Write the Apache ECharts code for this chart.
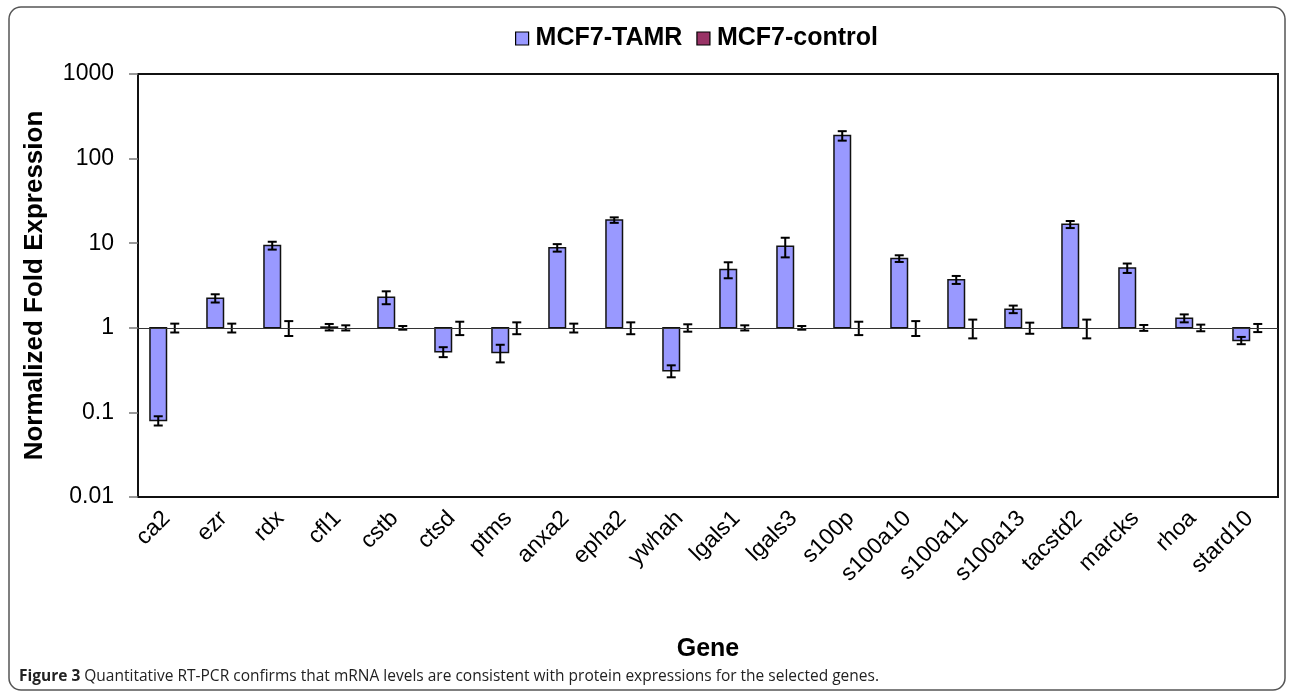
<!DOCTYPE html>
<html>
<head>
<meta charset="utf-8">
<script src="https://cdn.jsdelivr.net/npm/echarts@6/dist/echarts.min.js"></script>
<style>
  html, body { margin: 0; padding: 0; background: #fff; }
  #main { width: 1290px; height: 696px; }
</style>
</head>
<body>
<div id="main"></div>
<script>
var genes = ['ca2','ezr','rdx','cfl1','cstb','ctsd','ptms','anxa2','epha2','ywhah',
    'lgals1','lgals3','s100p','s100a10','s100a11','s100a13','tacstd2','marcks','rhoa','stard10'];
var tamr = [0.08, 2.24, 9.4, 1.02, 2.3, 0.52, 0.51, 8.85, 18.8, 0.31,
    4.9, 9.2, 187, 6.6, 3.7, 1.66, 16.7, 5.1, 1.3, 0.71];
var tamrErr = [0.01, 0.25, 1.0, 0.09, 0.4, 0.07, 0.12, 0.9, 1.4, 0.05,
    1.05, 2.4, 24, 0.6, 0.4, 0.17, 1.6, 0.65, 0.14, 0.07];
var control = [1, 1, 1, 1, 1, 1, 1, 1, 1, 1, 1, 1, 1, 1, 1, 1, 1, 1, 1, 1];
var controlErr = [0.12, 0.12, 0.2, 0.07, 0.05, 0.18, 0.16, 0.12, 0.16, 0.1,
    0.07, 0.05, 0.18, 0.2, 0.25, 0.15, 0.25, 0.08, 0.09, 0.11];
var yTicks = [0.01, 0.1, 1, 10, 100, 1000];

var myChart = echarts.init(document.getElementById('main'));

// bars grow from 1, error bar on top of each
function barRender(side, vals, errs, fill) {
    return function (params, api) {
        var i = api.value(0);
        var band = api.size([1, 0])[0];
        var w = band * 0.29;
        var cx = api.coord([i, 1])[0] + side * w / 2;
        var y1 = api.coord([i, 1])[1];
        var yv = api.coord([i, vals[i]])[1];
        var yHi = api.coord([i, vals[i] + errs[i]])[1];
        var yLo = api.coord([i, vals[i] - errs[i]])[1];
        var cap = 4.5;
        var kids = [];
        if (fill && Math.abs(yv - y1) > 0.5) {
            kids.push({
                type: 'rect',
                shape: { x: cx - w / 2, y: Math.min(y1, yv), width: w, height: Math.abs(yv - y1) },
                style: { fill: fill, stroke: '#111', lineWidth: 1.5 }
            });
        }
        var ls = { stroke: '#000', lineWidth: 2 };
        kids.push({ type: 'line', shape: { x1: cx, y1: yHi, x2: cx, y2: yLo }, style: ls });
        kids.push({ type: 'line', shape: { x1: cx - cap, y1: yHi, x2: cx + cap, y2: yHi }, style: ls });
        kids.push({ type: 'line', shape: { x1: cx - cap, y1: yLo, x2: cx + cap, y2: yLo }, style: ls });
        return { type: 'group', children: kids };
    };
}

var option = {
    animation: false,
    textStyle: { fontFamily: 'Liberation Sans, Arial, sans-serif' },
    graphic: [{
        type: 'rect',
        shape: { x: 9, y: 7, width: 1276, height: 683, r: 12 },
        style: { fill: 'none', stroke: '#555', lineWidth: 1.5 },
        z: -1
    }],
    title: {
        left: 14,
        top: 664,
        text: '{b|Figure 3} Quantitative RT-PCR confirms that mRNA levels are consistent with protein expressions for the selected genes.',
        textStyle: {
            fontFamily: 'Open Sans, Noto Sans, sans-serif',
            fontSize: 15.5,
            fontWeight: 'normal',
            color: '#222',
            rich: {
                b: { fontFamily: 'Open Sans, Noto Sans, sans-serif', fontSize: 15.5, fontWeight: 'bold', color: '#222' }
            }
        }
    },
    legend: {
        top: 21,
        left: 510,
        itemWidth: 13,
        itemHeight: 13,
        itemGap: 14,
        icon: 'rect',
        itemStyle: { borderColor: '#000', borderWidth: 1.2 },
        textStyle: { fontSize: 25, fontWeight: 'bold', color: '#000', padding: [0, 0, 0, 2] },
        data: ['MCF7-TAMR', 'MCF7-control']
    },
    grid: {
        left: 138, right: 12, top: 74, bottom: 199,
        show: true, borderColor: '#111', borderWidth: 2
    },
    xAxis: {
        type: 'category',
        data: genes,
        name: 'Gene',
        nameLocation: 'middle',
        nameGap: 140,
        nameTextStyle: { fontSize: 25, fontWeight: 'bold', color: '#000' },
        axisLine: { show: true, lineStyle: { color: '#111', width: 1.5 } },
        axisTick: { show: false },
        axisLabel: { rotate: 45, fontSize: 23, color: '#000', margin: 18, interval: 0 }
    },
    yAxis: {
        type: 'log',
        logBase: 10,
        min: 0.01,
        max: 1000,
        name: 'Normalized Fold Expression',
        nameLocation: 'middle',
        nameGap: 90,
        nameTextStyle: { fontSize: 26, fontWeight: 'bold', color: '#000' },
        axisLine: { show: true, lineStyle: { color: '#111', width: 2 } },
        axisTick: { show: true, inside: false, length: 9, lineStyle: { color: '#777', width: 1.5 } },
        splitLine: { show: false },
        axisLabel: {
            fontSize: 23, color: '#000', margin: 24,
            formatter: function (v) {
                for (var k = 0; k < yTicks.length; k++) {
                    if (Math.abs(v - yTicks[k]) / yTicks[k] < 1e-6) return String(yTicks[k]);
                }
                return '';
            }
        }
    },
    series: [{
        name: 'MCF7-TAMR',
        type: 'custom',
        itemStyle: { color: '#9999ff' },
        renderItem: barRender(-1, tamr, tamrErr, '#9999ff'),
        encode: { x: 0, y: 1 },
        data: genes.map(function (g, i) { return [i, tamr[i]]; }),
        markLine: {
            silent: true,
            symbol: 'none',
            label: { show: false },
            lineStyle: { color: '#333', width: 1, type: 'solid' },
            data: [{ yAxis: 1 }]
        },
        z: 3
    }, {
        name: 'MCF7-control',
        type: 'custom',
        itemStyle: { color: '#993366' },
        renderItem: barRender(1, control, controlErr, '#993366'),
        encode: { x: 0, y: 1 },
        data: genes.map(function (g, i) { return [i, control[i]]; }),
        z: 3
    }]
};
myChart.setOption(option);
</script>
</body>
</html>
